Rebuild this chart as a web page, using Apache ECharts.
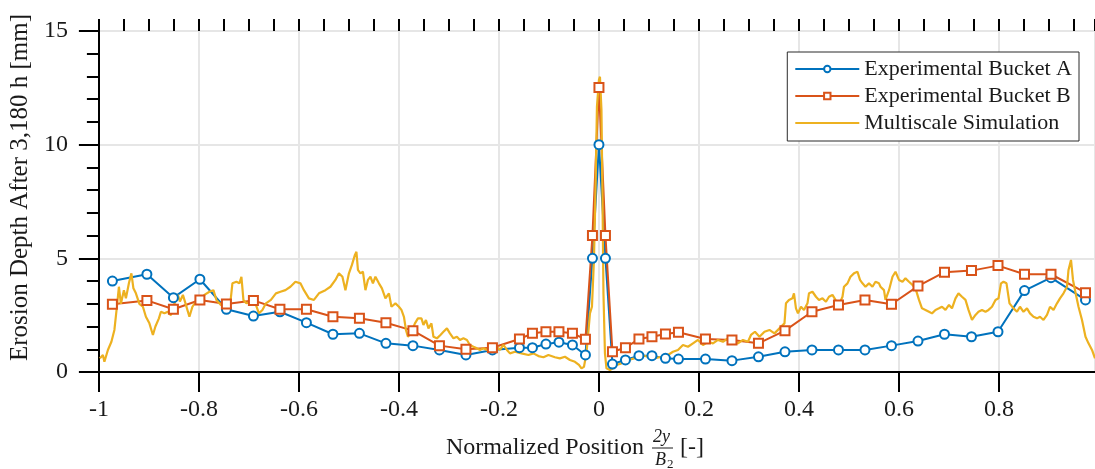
<!DOCTYPE html>
<html lang="en">

<head>
    <meta charset="UTF-8">
    <title>Erosion depth</title>
    <style media="screen">
        html, body {
            margin: 0;
            padding: 0;
            background: #fff;
        }
        #chart {
            width: 1095px;
            height: 469px;
        }
    </style>
</head>

<body>
    <div id="chart"></div>

    <script src="https://cdn.jsdelivr.net/npm/echarts@6/dist/echarts.min.js"></script>
    <script>
        // measurement positions (normalized 2y/B2)
        var xPos = [-0.973, -0.904, -0.851, -0.798, -0.745, -0.691, -0.638, -0.585, -0.532, -0.479, -0.426,
            -0.372, -0.319, -0.266, -0.213, -0.159, -0.133, -0.106, -0.080, -0.053, -0.027, -0.013, 0,
            0.013, 0.027, 0.053, 0.080, 0.106, 0.133, 0.159, 0.213, 0.266, 0.319, 0.372, 0.426, 0.479,
            0.532, 0.585, 0.638, 0.691, 0.745, 0.798, 0.851, 0.904, 0.973];
        var bucketA = [4.0, 4.3, 3.27, 4.08, 2.76, 2.46, 2.65, 2.17, 1.66, 1.7, 1.26,
            1.16, 0.97, 0.75, 0.97, 1.07, 1.07, 1.23, 1.31, 1.19, 0.75, 5.0, 10.0,
            5.0, 0.35, 0.53, 0.72, 0.72, 0.6, 0.57, 0.57, 0.5, 0.67, 0.89, 0.97, 0.97,
            0.97, 1.16, 1.36, 1.66, 1.55, 1.77, 3.58, 4.15, 3.17];
        var bucketB = [2.98, 3.15, 2.76, 3.17, 2.99, 3.15, 2.76, 2.76, 2.43, 2.36, 2.17,
            1.82, 1.16, 1.0, 1.07, 1.45, 1.7, 1.77, 1.77, 1.7, 1.44, 6.0, 12.52,
            6.0, 0.89, 1.07, 1.45, 1.55, 1.67, 1.75, 1.45, 1.41, 1.26, 1.82, 2.65, 2.95,
            3.17, 2.98, 3.78, 4.39, 4.46, 4.68, 4.3, 4.3, 3.49];

        // multiscale simulation profile
        var simX = [-0.998, -0.992, -0.989, -0.982, -0.975, -0.969, -0.964, -0.960, -0.956, -0.950, -0.946, -0.940,
            -0.935, -0.931, -0.926, -0.919, -0.912, -0.906, -0.899, -0.892, -0.887, -0.880, -0.876, -0.869,
            -0.862, -0.856, -0.849, -0.842, -0.838, -0.832, -0.826, -0.819, -0.813, -0.806, -0.799, -0.789,
            -0.779, -0.771, -0.765, -0.756, -0.746, -0.738, -0.733, -0.725, -0.719, -0.715, -0.711, -0.705,
            -0.696, -0.686, -0.680, -0.673, -0.666, -0.656, -0.646, -0.637, -0.627, -0.617, -0.607, -0.597,
            -0.590, -0.580, -0.570, -0.560, -0.547, -0.537, -0.527, -0.520, -0.513, -0.507, -0.500, -0.494,
            -0.488, -0.485, -0.482, -0.477, -0.472, -0.467, -0.462, -0.457, -0.452, -0.447, -0.440, -0.434,
            -0.427, -0.420, -0.415, -0.407, -0.400, -0.395, -0.390, -0.386, -0.382, -0.375, -0.368, -0.362,
            -0.355, -0.351, -0.346, -0.341, -0.335, -0.331, -0.324, -0.317, -0.311, -0.304, -0.298, -0.291,
            -0.284, -0.278, -0.271, -0.264, -0.258, -0.251, -0.244, -0.238, -0.231, -0.224, -0.218, -0.211,
            -0.204, -0.198, -0.191, -0.184, -0.178, -0.168, -0.155, -0.141, -0.131, -0.121, -0.111, -0.101,
            -0.088, -0.078, -0.068, -0.058, -0.048, -0.040, -0.035, -0.030, -0.025, -0.022, -0.018, -0.014,
            -0.010, -0.007, -0.004, 0.000, 0.002, 0.005, 0.007, 0.009, 0.012, 0.015, 0.022, 0.028,
            0.035, 0.045, 0.058, 0.071, 0.085, 0.098, 0.111, 0.125, 0.138, 0.148, 0.158, 0.168,
            0.178, 0.188, 0.198, 0.208, 0.218, 0.228, 0.238, 0.248, 0.258, 0.268, 0.278, 0.288,
            0.298, 0.304, 0.312, 0.321, 0.331, 0.341, 0.351, 0.361, 0.371, 0.374, 0.380, 0.387,
            0.390, 0.394, 0.398, 0.404, 0.410, 0.417, 0.420, 0.427, 0.434, 0.440, 0.447, 0.454,
            0.460, 0.467, 0.473, 0.480, 0.487, 0.490, 0.497, 0.503, 0.510, 0.517, 0.522, 0.527,
            0.533, 0.540, 0.547, 0.553, 0.560, 0.563, 0.570, 0.573, 0.580, 0.587, 0.593, 0.600,
            0.607, 0.613, 0.620, 0.627, 0.633, 0.640, 0.646, 0.653, 0.660, 0.666, 0.673, 0.680,
            0.686, 0.693, 0.700, 0.706, 0.713, 0.719, 0.726, 0.733, 0.739, 0.746, 0.753, 0.759,
            0.766, 0.773, 0.779, 0.786, 0.793, 0.799, 0.804, 0.809, 0.815, 0.821, 0.829, 0.836,
            0.842, 0.849, 0.856, 0.862, 0.869, 0.876, 0.882, 0.889, 0.896, 0.902, 0.909, 0.916,
            0.922, 0.929, 0.936, 0.939, 0.944, 0.948, 0.952, 0.959, 0.966, 0.973, 0.979, 0.986, 0.992];
        var simY = [0.60, 0.75, 0.45, 0.97, 1.33, 1.85, 2.87, 3.75, 3.00, 3.60, 3.24, 3.90,
            4.34, 3.68, 3.46, 3.00, 2.87, 2.43, 2.14, 1.63, 2.00, 2.36, 2.65, 2.58,
            2.65, 2.50, 3.00, 3.39, 3.10, 3.39, 2.95, 2.43, 2.87, 3.10, 3.17, 3.39,
            3.53, 3.60, 3.17, 2.95, 2.95, 2.87, 3.90, 3.97, 3.90, 4.19, 3.17, 3.02,
            3.10, 2.95, 2.58, 2.73, 3.02, 3.17, 3.46, 3.53, 3.60, 3.75, 3.97, 3.90,
            3.60, 3.24, 3.17, 3.46, 3.60, 3.75, 4.05, 4.34, 4.19, 3.60, 4.34, 4.71,
            5.15, 5.29, 4.49, 4.34, 4.41, 3.60, 4.05, 4.19, 3.90, 4.19, 3.90, 3.68,
            3.24, 3.46, 2.87, 3.02, 2.87, 2.73, 2.43, 1.85, 1.55, 1.77, 2.14, 2.36,
            2.36, 2.07, 2.29, 1.92, 2.14, 1.55, 1.48, 1.63, 1.77, 1.92, 1.70, 1.48,
            1.55, 1.41, 1.48, 1.41, 1.19, 1.11, 1.04, 0.97, 1.04, 0.97, 1.11, 0.82,
            1.11, 0.97, 1.19, 0.97, 0.82, 0.89, 0.82, 0.75, 0.82, 0.70, 0.65, 0.75,
            0.65, 0.60, 0.67, 0.53, 0.45, 0.31, 0.16, 0.23, 0.82, 1.55, 2.58, 2.87,
            4.93, 7.86, 11.67, 12.85, 12.99, 11.53, 7.86, 3.46, 0.82, 0.16, 0.09, 0.16,
            0.31, 0.38, 0.53, 0.60, 0.75, 0.67, 0.60, 0.67, 0.75, 0.89, 0.97, 1.19,
            1.11, 1.26, 1.41, 1.19, 1.33, 1.26, 1.41, 1.33, 1.48, 1.33, 1.26, 1.41,
            1.33, 1.63, 1.77, 1.55, 1.77, 1.85, 1.70, 1.92, 2.14, 3.02, 3.17, 3.24,
            3.46, 2.80, 2.58, 2.87, 2.73, 3.02, 3.46, 3.53, 3.31, 3.17, 3.24, 3.09,
            3.31, 3.39, 3.17, 2.95, 3.31, 3.75, 3.90, 4.19, 4.34, 4.41, 4.05, 3.90,
            3.75, 3.90, 3.75, 3.97, 3.90, 3.75, 3.60, 3.17, 3.60, 4.19, 4.41, 4.05,
            3.97, 4.12, 3.97, 3.83, 3.68, 3.17, 2.80, 2.73, 2.65, 2.58, 2.73, 2.80,
            2.87, 2.73, 2.95, 2.80, 3.24, 3.46, 3.31, 3.17, 2.73, 2.29, 2.51, 2.65,
            2.73, 2.65, 2.73, 2.87, 3.17, 3.24, 3.90, 3.97, 3.90, 3.02, 2.80, 2.65,
            2.87, 2.65, 2.80, 2.58, 2.43, 2.36, 2.43, 2.29, 2.51, 2.87, 2.73, 3.02,
            3.24, 3.46, 3.75, 4.49, 4.93, 4.05, 3.60, 2.87, 2.29, 1.55, 1.26, 0.97, 0.60];

        var xTicks = [-1, -0.8, -0.6, -0.4, -0.2, 0, 0.2, 0.4, 0.6, 0.8];
        var yTicks = [0, 5, 10, 15];

        (function initChart() {
            var myChart = echarts.init(document.getElementById('chart'));
            var font = 'Liberation Serif';
            var ink = '#1a1a1a';

            function pairs(xs, ys) {
                var out = [];
                for (var i = 0; i < xs.length; i++) {
                    out.push([xs[i], ys[i]]);
                }
                return out;
            }

            var xMin = xTicks[0];
            var xMax = 0.992;

            var options = {
                animation: false,
                grid: {
                    left: 96,
                    right: 0,
                    top: 31,
                    bottom: 97
                },

                legend: {
                    orient: 'vertical',
                    right: 16,
                    top: 52,
                    padding: [6, 7, 7, 7],
                    itemGap: 5,
                    itemWidth: 64,
                    itemHeight: 8,
                    backgroundColor: '#fff',
                    borderColor: '#2b2b2b',
                    borderWidth: 1,
                    borderRadius: 0,
                    textStyle: {
                        fontFamily: font,
                        fontSize: 22,
                        color: ink
                    },
                    data: [
                        'Experimental Bucket A',
                        'Experimental Bucket B',
                        {
                            name: 'Multiscale Simulation',
                            itemStyle: {
                                opacity: 0
                            }
                        }
                    ]
                },

                xAxis: [{
                    type: 'value',
                    min: xMin,
                    max: xMax,
                    interval: 0.2,
                    axisLine: {
                        onZero: false,
                        lineStyle: {
                            color: '#000',
                            width: 2
                        }
                    },
                    axisTick: {
                        length: 20,
                        lineStyle: {
                            color: '#000',
                            width: 2
                        }
                    },
                    axisLabel: {
                        margin: 26,
                        showMaxLabel: false,
                        fontFamily: font,
                        fontSize: 24,
                        color: ink,
                        formatter: function(v) {
                            var r = Math.round(v * 10) / 10;
                            return xTicks.indexOf(r) >= 0 ? String(r) : '';
                        }
                    },
                    splitLine: {
                        lineStyle: {
                            color: '#e6e6e6',
                            width: 2
                        }
                    }
                }, {
                    // minor ticks every 0.05
                    type: 'value',
                    min: xMin,
                    max: xMax,
                    interval: 0.05,
                    axisLine: {
                        show: false,
                        onZero: false
                    },
                    axisTick: {
                        length: 12,
                        lineStyle: {
                            color: '#000',
                            width: 2
                        }
                    },
                    axisLabel: {
                        show: false
                    },
                    splitLine: {
                        show: false
                    }
                }],

                yAxis: [{
                    type: 'value',
                    min: yTicks[0],
                    max: yTicks[yTicks.length - 1],
                    interval: 5,
                    name: 'Erosion Depth After 3,180 h [mm]',
                    nameLocation: 'middle',
                    nameGap: 57,
                    nameTextStyle: {
                        fontFamily: font,
                        fontSize: 25,
                        color: ink,
                        padding: [0, 0, 0, 28]
                    },
                    axisLine: {
                        show: true,
                        onZero: false,
                        lineStyle: {
                            color: '#000',
                            width: 2
                        }
                    },
                    axisTick: {
                        show: true,
                        length: 20,
                        lineStyle: {
                            color: '#000',
                            width: 2
                        }
                    },
                    minorTick: {
                        show: true,
                        splitNumber: 5,
                        length: 12,
                        lineStyle: {
                            color: '#000',
                            width: 2
                        }
                    },
                    axisLabel: {
                        margin: 31,
                        fontFamily: font,
                        fontSize: 24,
                        color: ink
                    },
                    splitLine: {
                        lineStyle: {
                            color: '#e6e6e6',
                            width: 2
                        }
                    }
                }],

                graphic: [{
                    type: 'text',
                    left: 446,
                    top: 436,
                    style: {
                        text: 'Normalized Position',
                        font: '24px "Liberation Serif"',
                        fill: ink
                    }
                }, {
                    type: 'text',
                    left: 653,
                    top: 428,
                    style: {
                        text: '2y',
                        font: 'italic 18px "Liberation Serif"',
                        fill: ink
                    }
                }, {
                    type: 'line',
                    shape: {
                        x1: 652,
                        y1: 448,
                        x2: 673,
                        y2: 448
                    },
                    style: {
                        stroke: ink,
                        lineWidth: 1
                    }
                }, {
                    type: 'text',
                    left: 655,
                    top: 451,
                    style: {
                        text: 'B',
                        font: 'italic 18px "Liberation Serif"',
                        fill: ink
                    }
                }, {
                    type: 'text',
                    left: 667,
                    top: 458,
                    style: {
                        text: '2',
                        font: '13px "Liberation Serif"',
                        fill: ink
                    }
                }, {
                    type: 'text',
                    left: 680,
                    top: 436,
                    style: {
                        text: '[-]',
                        font: '24px "Liberation Serif"',
                        fill: ink
                    }
                }],

                series: [{
                        name: 'Experimental Bucket A',
                        type: 'line',
                        symbol: 'emptyCircle',
                        symbolSize: 9,
                        color: '#0072BD',
                        lineStyle: {
                            width: 2
                        },
                        itemStyle: {
                            borderWidth: 1.6
                        },
                        data: pairs(xPos, bucketA)
                    },
                    {
                        name: 'Experimental Bucket B',
                        type: 'line',
                        symbol: 'emptyRect',
                        symbolSize: 9,
                        color: '#D95319',
                        lineStyle: {
                            width: 2
                        },
                        itemStyle: {
                            borderWidth: 1.6
                        },
                        data: pairs(xPos, bucketB)
                    },
                    {
                        name: 'Multiscale Simulation',
                        type: 'line',
                        symbol: 'none',
                        color: '#EDB120',
                        lineStyle: {
                            width: 2.2
                        },
                        data: pairs(simX, simY)
                    }
                ]
            };

            myChart.setOption(options, true);
        })();
    </script>
</body>

</html>
